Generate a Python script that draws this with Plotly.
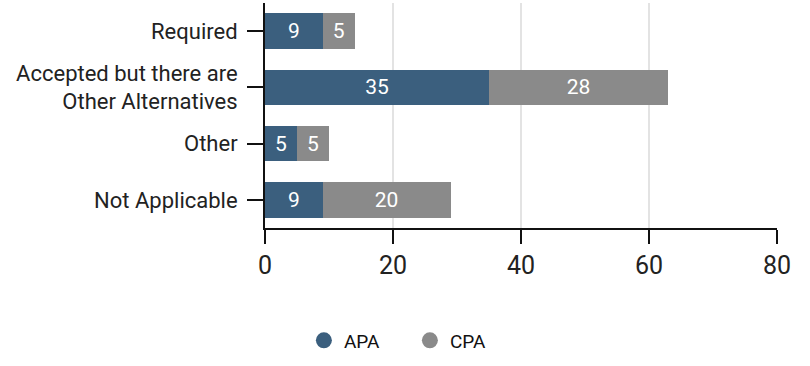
import plotly.graph_objects as go

categories = ["Required", "Accepted but there are<br>Other Alternatives", "Other", "Not Applicable"]
apa = [9, 35, 5, 9]
cpa = [5, 28, 5, 20]
x_ticks = [0, 20, 40, 60, 80]
series_names = ["APA", "CPA"]
series_colors = ["#3b5f7e", "#8a8a8a"]

FONT = "Roboto, sans-serif"

fig = go.Figure()
for name, vals, col in zip(series_names, [apa, cpa], series_colors):
    fig.add_trace(go.Bar(y=categories, x=vals, name=name, orientation="h",
                         marker=dict(color=col, line=dict(width=0)),
                         text=vals, textposition="inside", insidetextanchor="middle",
                         textfont=dict(color="white", size=21, family=FONT),
                         showlegend=False))
for name, col in zip(series_names, series_colors):
    fig.add_trace(go.Scatter(x=[None], y=[None], mode="markers", name=name,
                             marker=dict(symbol="circle", size=21, color=col,
                                         line=dict(width=0))))

fig.update_layout(
    width=810, height=366,
    barmode="stack", bargap=0.37,
    margin=dict(l=265, r=33, t=3, b=138),
    plot_bgcolor="white", paper_bgcolor="white",
    font=dict(family=FONT, color="#222"),
    legend=dict(orientation="h", x=0.283, xanchor="center", y=-0.5, yanchor="middle",
                font=dict(family=FONT, size=19, color="#111"),
                traceorder="normal", itemwidth=30, entrywidth=61),
)
fig.update_xaxes(range=[0, 80], tickvals=x_ticks, showgrid=True, gridcolor="#e3e3e3",
                 gridwidth=1.5, showline=True, linecolor="#111", linewidth=2,
                 ticks="outside", ticklen=14, tickwidth=2, tickcolor="#111",
                 tickfont=dict(size=25, family=FONT, color="#222"), zeroline=False)
fig.update_yaxes(autorange="reversed", showline=True, linecolor="#111", linewidth=2,
                 ticks="outside", ticklen=16, tickwidth=2, tickcolor="#111",
                 ticklabelstandoff=5,
                 tickfont=dict(size=22, family=FONT, color="#222"), showgrid=False)

fig.write_html("out.html", config={"displayModeBar": False},
               post_script="document.body.style.margin='0';")
